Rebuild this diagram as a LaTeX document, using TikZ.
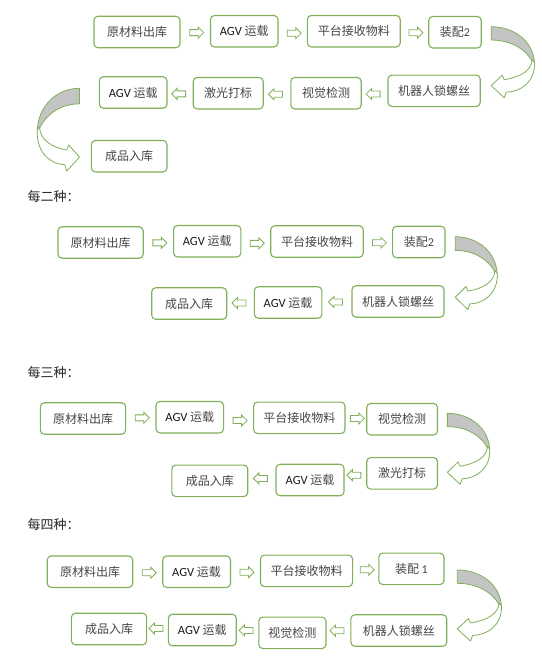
\documentclass[tikz,border=0pt]{standalone}
\usepackage{fontspec}
\usetikzlibrary{shapes.arrows,calc}
\newfontfamily\cjk{Noto Sans CJK SC}
\newfontfamily\lat{Carlito}
\definecolor{boxgreen}{RGB}{128,176,88}
\definecolor{textgray}{RGB}{70,70,70}
\definecolor{crescentgray}{RGB}{196,196,196}
\newcommand{\agv}{{\lat\color{black!90}\fontsize{12.5}{12.5}\selectfont AGV}}
\tikzset{
  box/.style={draw=boxgreen, line width=1.1pt, rounded corners=4pt, fill=white,
    minimum height=31.5pt, inner sep=0pt, text=textgray,
    font=\cjk\fontsize{12}{12}\selectfont},
  rarrow/.style={single arrow, draw=boxgreen, fill=white, line width=0.8pt,
    minimum height=14pt, single arrow head extend=2.5pt, inner sep=2.6pt,
    single arrow head indent=0pt},
  larrow/.style={rarrow, shape border rotate=180},
  lbl/.style={anchor=west, inner sep=0pt, text=black!85, font=\cjk\fontsize{13}{13}\selectfont},
  curveline/.style={draw=boxgreen, line width=0.8pt, line join=round},
  curvearrow/.pic={
    \draw[curveline, fill=crescentgray] (0,0) .. controls (22,0) and (43,14) .. (43.3,38)
      -- (43,40) .. controls (40,28) and (25,13.3) .. (0,13.3) -- cycle;
    \draw[curveline, fill=white] (43.3,36) .. controls (44,55) and (30,65) .. (15,65.5)
      -- (13,71) -- (0,59) -- (11,48.5) -- (13,53)
      .. controls (30,50) and (40,44) .. (41,33) -- cycle;
  }
}
\begin{document}
\begin{tikzpicture}[x=1pt,y=-1pt]
\useasboundingbox[fill=white] (0,0) rectangle (541,664);

% ---------- Section 1 ----------
\node[box, minimum width=86pt]   (n11) at (137,32)    {原材料出库};
\node[box, minimum width=67.5pt] (n12) at (244.2,31.2){\agv{} 运载};
\node[box, minimum width=92.8pt] (n13) at (353.8,31.2){平台接收物料};
\node[box, minimum width=52.5pt] (n14) at (455,32.2)  {装配{\lat 2}};
\node[box, minimum width=92.2pt] (n21) at (434.1,90.8){机器人锁螺丝};
\node[box, minimum width=70.4pt] (n22) at (326,93.2)  {视觉检测};
\node[box, minimum width=70pt]   (n23) at (228.2,93.2){激光打标};
\node[box, minimum width=67.6pt] (n24) at (133.2,92.5){\agv{} 运载};
\node[box, minimum width=75.6pt] (n25) at (129.2,156.2){成品入库};

\node[rarrow] (a11) at ($(n11.east)!0.5!(n12.west)+(0,1)$) {};
\node[rarrow] (a12) at ($(n12.east)!0.5!(n13.west)+(0,2)$) {};
\node[rarrow] (a13) at ($(n13.east)!0.5!(n14.west)+(0,1)$) {};
\node[larrow] (a21) at ($(n21.west)!0.5!(n22.east)+(0,2)$) {};
\node[larrow] (a22) at ($(n22.west)!0.5!(n23.east)+(0,1)$) {};
\node[larrow] (a23) at ($(n23.west)!0.5!(n24.east)+(0,1)$) {};

\pic (c11) at ($(n14.east)+(9.4,-5.5)$) {curvearrow};
\pic[xscale=-0.977, yscale=1.167] (c12) at ($(n24.west)+(-19.4,-4.2)$) {curvearrow};

% ---------- Section 2 ----------
\node[lbl] (l2) at (27.5,196.5) {每二种：};
\node[box, minimum width=85.2pt] (m11) at (100.6,242.5){原材料出库};
\node[box, minimum width=67.3pt] (m12) at (207.2,241.2){\agv{} 运载};
\node[box, minimum width=92.5pt] (m13) at (317,241.5)  {平台接收物料};
\node[box, minimum width=52.4pt] (m14) at (418.8,242)  {装配{\lat 2}};
\node[box, minimum width=92pt]   (m21) at (398,301.5)  {机器人锁螺丝};
\node[box, minimum width=67.6pt] (m22) at (288.1,302.5){\agv{} 运载};
\node[box, minimum width=75pt]   (m23) at (189.2,303.5){成品入库};

\node[rarrow] (b11) at ($(m11.east)!0.5!(m12.west)+(0,1)$) {};
\node[rarrow] (b12) at ($(m12.east)!0.5!(m13.west)+(0,2)$) {};
\node[rarrow] (b13) at ($(m13.east)!0.5!(m14.west)+(0,1)$) {};
\node[larrow] (b21) at ($(m21.west)!0.5!(m22.east)+(0,0)$) {};
\node[larrow] (b22) at ($(m22.west)!0.5!(m23.east)+(0,0)$) {};

\pic[xscale=0.97, yscale=1.027] (c2) at ($(m14.east)+(9.7,-5.3)$) {curvearrow};

% ---------- Section 3 ----------
\node[lbl] (l3) at (27.5,373) {每三种：};
\node[box, minimum width=85.2pt] (p11) at (83,418.5)   {原材料出库};
\node[box, minimum width=67.6pt] (p12) at (189.8,417.2){\agv{} 运载};
\node[box, minimum width=91.4pt] (p13) at (299.3,417.8){平台接收物料};
\node[box, minimum width=70.8pt] (p14) at (402.1,419.2){视觉检测};
\node[box, minimum width=70.8pt] (p21) at (402.1,473.3){激光打标};
\node[box, minimum width=68pt]   (p22) at (310,480)    {\agv{} 运载};
\node[box, minimum width=75.9pt] (p23) at (209.8,480.8){成品入库};

\node[rarrow] (d11) at ($(p11.east)!0.5!(p12.west)+(0,0)$) {};
\node[rarrow] (d12) at ($(p12.east)!0.5!(p13.west)+(0,3)$) {};
\node[rarrow] (d13) at ($(p13.east)!0.5!(p14.west)+(0,0)$) {};
\node[larrow] (d21) at ($(p21.west)!0.5!(p22.east)+(0,-1.5)$) {};
\node[larrow] (d22) at ($(p22.west)!0.5!(p23.east)+(0,-2)$) {};

\pic[xscale=0.98, yscale=1.0] (c3) at ($(p14.east)+(9.3,-5.9)$) {curvearrow};

% ---------- Section 4 ----------
\node[lbl] (l4) at (27.5,525) {每四种：};
\node[box, minimum width=85.5pt] (q11) at (90,571.7)   {原材料出库};
\node[box, minimum width=67.7pt] (q12) at (196.6,571.7){\agv{} 运载};
\node[box, minimum width=92.1pt] (q13) at (306.5,570.8){平台接收物料};
\node[box, minimum width=65.2pt] (q14) at (411.4,568.8){装配 {\lat 1}};
\node[box, minimum width=95.9pt] (q21) at (398.8,630.5){机器人锁螺丝};
\node[box, minimum width=67.2pt] (q22) at (292.4,632.8){视觉检测};
\node[box, minimum width=67.9pt] (q23) at (202.3,630)  {\agv{} 运载};
\node[box, minimum width=75.2pt] (q24) at (109,629)    {成品入库};

\node[rarrow] (e11) at ($(q11.east)!0.5!(q12.west)+(0,1)$) {};
\node[rarrow] (e12) at ($(q12.east)!0.5!(q13.west)+(0,1)$) {};
\node[rarrow] (e13) at ($(q13.east)!0.5!(q14.west)+(0,0)$) {};
\node[larrow] (e21) at ($(q21.west)!0.5!(q22.east)+(0,-1)$) {};
\node[larrow] (e22) at ($(q22.west)!0.5!(q23.east)+(0,-1)$) {};
\node[larrow] (e23) at ($(q23.west)!0.5!(q24.east)+(0,-1)$) {};

\pic[xscale=1.02, yscale=1.0] (c4) at ($(q14.east)+(12.7,1.2)$) {curvearrow};
\end{tikzpicture}
\end{document}
